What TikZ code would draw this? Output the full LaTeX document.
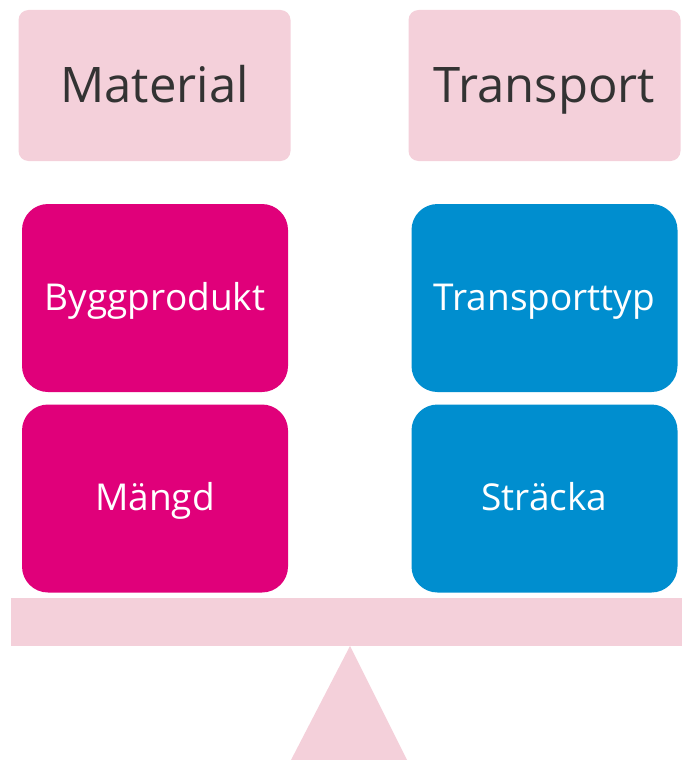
\documentclass[tikz,border=0pt]{standalone}
\usepackage{fontspec}
\setmainfont{Open Sans}
\usepackage{xcolor}
\definecolor{paleRose}{HTML}{F4D0DA}
\definecolor{deepMagenta}{HTML}{E0007A}
\definecolor{oceanBlue}{HTML}{008ECF}
\definecolor{darkText}{HTML}{333333}

\begin{document}
\begin{tikzpicture}[x=1pt, y=-1pt,
  every node/.style={inner sep=0pt},
  headbox/.style={fill=paleRose, rounded corners=10pt, minimum width=272pt, minimum height=151pt, text=darkText, text height=40pt, text depth=7pt, font=\fontsize{49}{58}\selectfont},
  matbox/.style={fill=deepMagenta, rounded corners=26pt, minimum width=266pt, minimum height=188pt, text=white, text height=30pt, text depth=6pt, font=\fontsize{37}{44}\selectfont},
  transbox/.style={matbox, fill=oceanBlue}]
\useasboundingbox (0,0) rectangle (682,760);
% Headings
\node[headbox] (material) at (154.5,85.5) {Material};
\node[headbox] (transport) at (544.5,85.5) {Transport};
% Material side
\node[matbox] (byggprodukt) at (155,298) {Byggprodukt};
\node[matbox] (mangd) at (155,498.5) {Mängd};
% Transport side
\node[transbox] (transporttyp) at (544.5,298) {Transporttyp};
\node[transbox] (stracka) at (544.5,498.5) {Sträcka};
% Scale
\fill[paleRose] (11,598) rectangle (682,646);
\fill[paleRose] (350,646) -- (407,760) -- (291,760) -- cycle;
\end{tikzpicture}
\end{document}
